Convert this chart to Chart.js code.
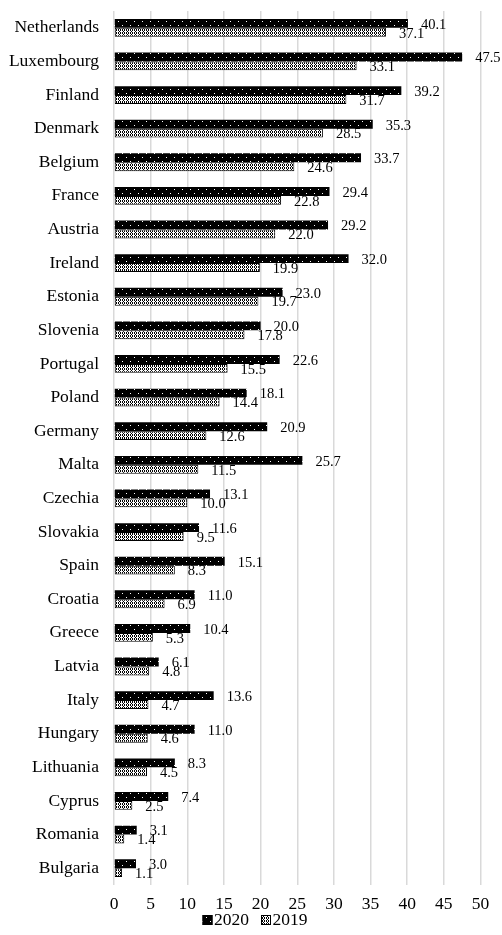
<!DOCTYPE html>
<html>
<head>
<meta charset="utf-8">
<script src="https://cdn.jsdelivr.net/npm/chart.js@4.4.1/dist/chart.umd.min.js"></script>
<style>
  html, body { margin: 0; padding: 0; background: #fff; }
  #wrap { width: 502px; height: 935px; }
</style>
</head>
<body>
<div id="wrap"><canvas id="c" width="502" height="935"></canvas></div>
<script>
const countries = ["Netherlands", "Luxembourg", "Finland", "Denmark", "Belgium", "France", "Austria",
  "Ireland", "Estonia", "Slovenia", "Portugal", "Poland", "Germany", "Malta", "Czechia", "Slovakia",
  "Spain", "Croatia", "Greece", "Latvia", "Italy", "Hungary", "Lithuania", "Cyprus", "Romania", "Bulgaria"];
const values2020 = [40.1, 47.5, 39.2, 35.3, 33.7, 29.4, 29.2, 32.0, 23.0, 20.0, 22.6, 18.1, 20.9, 25.7,
  13.1, 11.6, 15.1, 11.0, 10.4, 6.1, 13.6, 11.0, 8.3, 7.4, 3.1, 3.0];
const values2019 = [37.1, 33.1, 31.7, 28.5, 24.6, 22.8, 22.0, 19.9, 19.7, 17.8, 15.5, 14.4, 12.6, 11.5,
  10.0, 9.5, 8.3, 6.9, 5.3, 4.8, 4.7, 4.6, 4.5, 2.5, 1.4, 1.1];
const seriesNames = ["2020", "2019"];
const xTicks = [0, 5, 10, 15, 20, 25, 30, 35, 40, 45, 50];

const FONT = "'Liberation Serif', 'Times New Roman', serif";

// Fill textures: black with sparse white dots, and a white lattice on black
function makePattern(w, h, bg, fg, pixels) {
  const c = document.createElement('canvas');
  c.width = w; c.height = h;
  const g = c.getContext('2d');
  g.fillStyle = bg; g.fillRect(0, 0, w, h);
  g.fillStyle = fg;
  pixels.forEach(([x, y]) => g.fillRect(x, y, 1, 1));
  return g.createPattern(c, 'repeat');
}
const ctx = document.getElementById('c').getContext('2d');
const dotted = makePattern(8, 8, '#000', '#fff', [[2, 1], [6, 5]]);
const lattice = makePattern(4, 3, '#000', '#fff', [[1, 0], [0, 1], [1, 1], [2, 1], [1, 2], [3, 0], [3, 2]]);
const fills = [dotted, lattice];

// Value labels just past the end of each bar
const valueLabels = {
  id: 'valueLabels',
  afterDatasetsDraw(chart) {
    const g = chart.ctx;
    g.save();
    g.font = "14.5px " + FONT;
    g.fillStyle = '#000';
    g.textAlign = 'left';
    g.textBaseline = 'middle';
    chart.data.datasets.forEach((ds, di) => {
      chart.getDatasetMeta(di).data.forEach((el, i) => {
        g.fillText(ds.data[i].toFixed(1), el.x + 13, el.y + 1.5);
      });
    });
    g.restore();
  }
};

// Legend row under the axis
const bottomLegend = {
  id: 'bottomLegend',
  afterDraw(chart) {
    const g = chart.ctx;
    g.save();
    g.font = "17.5px " + FONT;
    g.textBaseline = 'middle';
    g.textAlign = 'left';
    const box = 10, gap = 1.5, spacing = 12;
    const widths = seriesNames.map(n => box + gap + g.measureText(n).width);
    const total = widths.reduce((a, b) => a + b, 0) + spacing * (widths.length - 1);
    let x = chart.width / 2 - total / 2 + 4;
    const cy = 920;
    seriesNames.forEach((name, i) => {
      g.fillStyle = fills[i];
      g.fillRect(x, cy - box / 2, box, box);
      g.strokeStyle = '#000';
      g.lineWidth = 1;
      g.strokeRect(x + 0.5, cy - box / 2 + 0.5, box - 1, box - 1);
      g.fillStyle = '#000';
      g.fillText(name, x + box + gap, cy + 0.5);
      x += widths[i] + spacing;
    });
    g.restore();
  }
};

new Chart(ctx, {
  type: 'bar',
  data: {
    labels: countries,
    datasets: [
      { label: seriesNames[0], data: values2020, backgroundColor: fills[0], borderColor: '#000',
        borderWidth: 0, borderSkipped: false },
      { label: seriesNames[1], data: values2019, backgroundColor: fills[1], borderColor: '#000',
        borderWidth: 1, borderSkipped: false }
    ]
  },
  options: {
    indexAxis: 'y',
    responsive: false,
    animation: false,
    events: [],
    categoryPercentage: 0.53,
    barPercentage: 1.0,
    layout: { padding: { top: 11, right: 21.5, bottom: 20, left: 0 } },
    plugins: { legend: { display: false }, tooltip: { enabled: false } },
    scales: {
      x: {
        min: 0, max: 50,
        afterBuildTicks(scale) { scale.ticks = xTicks.map(v => ({ value: v })); },
        afterFit(scale) { scale.height = 30; },
        grid: { color: '#d9d9d9', lineWidth: 1.5, drawTicks: false },
        border: { display: false },
        ticks: { padding: 9, color: '#000', font: { family: FONT, size: 17.5 } }
      },
      y: {
        afterFit(scale) { scale.width = 114; scale.paddingTop = 0; scale.paddingBottom = 0; },
        grid: { display: false, drawTicks: false },
        border: { display: false },
        ticks: { padding: 15, color: '#000', autoSkip: false, font: { family: FONT, size: 17.5 } }
      }
    }
  },
  plugins: [valueLabels, bottomLegend]
});
</script>
</body>
</html>
